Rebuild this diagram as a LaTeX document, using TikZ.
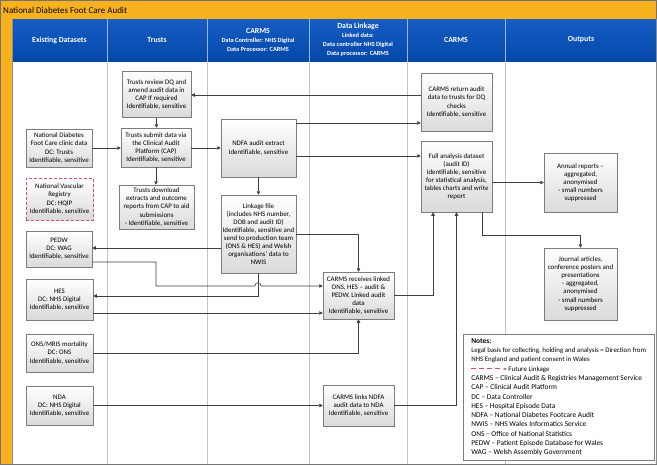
\documentclass[tikz,border=0pt]{standalone}
\usepackage{fontspec}
\setmainfont{Carlito}
\usetikzlibrary{arrows.meta,shadows}
\definecolor{orng}{RGB}{249,178,30}
\definecolor{hblue}{RGB}{22,92,196}
\definecolor{hblue2}{RGB}{4,72,168}
\definecolor{lnc}{RGB}{64,64,64}
\definecolor{bdr}{RGB}{125,125,125}
\definecolor{sepc}{RGB}{195,195,195}
\definecolor{fut}{RGB}{214,80,120}
\definecolor{boxbot}{RGB}{218,218,218}
\newcommand\hdsub{\fontsize{6.3}{7.7}\selectfont}
\newcommand\futdash{\textcolor{fut}{\rule[0.3em]{5pt}{1pt}}}
\begin{document}
\begin{tikzpicture}[x=1pt,y=-1pt,
  box/.style 2 args={draw=bdr, line width=0.5pt, top color=white, bottom color=boxbot,
    drop shadow={shadow xshift=0.8pt, shadow yshift=-0.8pt, opacity=0.25},
    align=center, inner sep=0.5pt, minimum width=#1pt, minimum height=#2pt,
    font=\fontsize{6.9}{8.1}\selectfont},
  arr/.style={draw=lnc, line width=0.6pt, -{Triangle[length=3.5pt,width=3.5pt]}},
  hdr/.style={text=white, align=center, font=\fontsize{7.8}{9}\bfseries\selectfont}
]
\useasboundingbox (0,0) rectangle (657,466);
% frame
\fill[orng] (0,0) rectangle (657,465);
\draw[black!55, line width=0.6pt] (0.3,0.3) rectangle (656.7,464.7);
\node[anchor=west, inner sep=0pt, font=\fontsize{9}{10}\selectfont] (title) at (3,10) {National Diabetes Foot Care Audit};
\fill[white] (12,19) rectangle (656.4,464.4);
\shade[top color=hblue, bottom color=hblue2] (12,19) rectangle (656.4,61);
\draw[black!45, line width=0.5pt] (12,19) -- (12,464.4);
\foreach \cx in {107,207,309,407,505} {
  \draw[sepc, line width=0.6pt] (\cx,61) -- (\cx,464.4);
  \draw[white!55!hblue, line width=0.6pt] (\cx,19) -- (\cx,61);
}
\draw[black!45, line width=0.5pt] (656.4,19) -- (656.4,464.4);
% headers
\node[hdr] (h1) at (59.5,40) {Existing Datasets};
\node[hdr] (h2) at (157,40) {Trusts};
\node[hdr] (h3) at (258,40) {CARMS\\\hdsub Data Controller: NHS Digital\\\hdsub Data Processor: CARMS};
\node[hdr] (h4) at (358,39.5) {Data Linkage\\\hdsub Linked data:\\\hdsub Data controller NHS Digital\\\hdsub Data processor: CARMS};
\node[hdr] (h5) at (456,40) {CARMS};
\node[hdr] (h6) at (581,40) {Outputs};
% helper levels
\foreach \yy in {95,123,148,156,234,235,248,262,286,296,313} {\coordinate (y\yy) at (0,\yy);}
\coordinate (x433) at (433,0);
\coordinate (x482) at (482,0);
% nodes
\node[box={69}{46}] (review) at (156.5,94.5) {Trusts review DQ and\\amend audit data in\\CAP If required\\Identifiable, sensitive};
\node[box={70}{39}] (submit) at (156,147.5) {Trusts submit data via\\the Clinical Audit\\Platform (CAP)\\Identifiable, sensitive};
\node[box={75}{44}] (download) at (156.5,207) {Trusts download\\extracts and outcome\\reports from CAP to aid\\submissions\\- Identifiable, sensitive};
\node[box={66}{38}] (clinic) at (59,148) {National Diabetes\\Foot Care clinic data\\DC: Trusts\\Identifiable, sensitive};
\node[box={67}{42}, draw=fut, line width=0.9pt, dash pattern=on 3pt off 2pt] (nvr) at (59.5,199) {National Vascular\\Registry\\DC: HQIP\\Identifiable, sensitive};
\node[box={66}{36}] (pedw) at (59,249) {PEDW\\DC: WAG\\Identifiable, sensitive};
\node[box={67}{41}] (hes) at (59.5,299.5) {HES\\DC: NHS Digital\\Identifiable, sensitive};
\node[box={67}{38}] (ons) at (59.5,353) {ONS/MRIS mortality\\DC: ONS\\Identifiable, sensitive};
\node[box={67}{39}] (nda) at (59.5,405.5) {NDA\\DC: NHS Digital\\Identifiable, sensitive};
\node[box={75}{58}] (ndfa) at (258.5,148) {NDFA audit extract\\Identifiable, sensitive};
\node[box={75}{78}] (linkage) at (258.5,234) {Linkage file\\(includes NHS number,\\DOB and audit ID)\\Identifiable, sensitive and\\send to production team\\(ONS \& HES) and Welsh\\organisations' data to\\NWIS};
\node[box={71}{47}] (recv) at (358.5,295.5) {CARMS receives linked\\ONS, HES – audit \&\\PEDW. Linked audit\\data\\Identifiable, sensitive};
\node[box={71}{41}] (links) at (358.5,405.5) {CARMS links NDFA\\audit data to NDA\\Identifiable, sensitive};
\node[box={71}{58}] (ret) at (456.5,102) {CARMS return audit\\data to trusts for DQ\\checks\\Identifiable, sensitive};
\node[box={71}{71}] (full) at (456.5,176.5) {Full analysis dataset\\(audit ID)\\Identifiable, sensitive\\for statistical analysis,\\tables charts and write\\report};
\node[box={73}{59}] (annual) at (580.5,182.5) {Annual reports –\\aggregated,\\anonymised\\- small numbers\\suppressed};
\node[box={73}{72}] (journal) at (580.5,284) {Journal articles,\\conference posters and\\presentations\\- aggregated,\\anonymised\\- small numbers\\suppressed};
\node[draw=bdr, fill=white, line width=0.5pt, anchor=north west, minimum width=191pt, minimum height=126pt,
      align=left, inner sep=2pt, font=\fontsize{7.4}{9.3}\selectfont] (notes) at (463,334)
  {\textbf{Notes:}\\
   {\fontsize{6.9}{9.3}\selectfont Legal basis for collecting, holding and analysis = Direction from}\\
   {\fontsize{6.9}{9.3}\selectfont NHS England and patient consent in Wales}\\
   {\fontsize{6.9}{9.3}\selectfont\futdash\hspace{3pt}\futdash\hspace{3pt}\futdash\hspace{3pt}\futdash\ \ = Future Linkage}\\
   CARMS – Clinical Audit \& Registries Management Service\\
   CAP – Clinical Audit Platform\\
   DC – Data Controller\\
   HES – Hospital Episode Data\\
   NDFA – National Diabetes Footcare Audit\\
   NWIS – NHS Wales Informatics Service\\
   ONS – Office of National Statistics\\
   PEDW – Patient Episode Database for Wales\\
   WAG – Welsh Assembly Government};
% connectors
\draw[arr] (ret.west |- y95) -- (review.east |- y95);
\draw[arr] (review.south) -- (review.south |- submit.north);
\draw[arr] (clinic.east |- y148) -- (submit.west |- y148);
\draw[arr] (submit.south) -- (submit.south |- download.north);
\draw[arr] (submit.east |- y148) -- (ndfa.west |- y148);
\draw[arr] (ndfa.east |- y123) -- (ret.west |- y123);
\draw[arr] (ndfa.east |- y156) -- (full.west |- y156);
\draw[arr] (ndfa.south) -- (linkage.north);
\draw[arr] (linkage.west |- y248) -- (pedw.east |- y248);
\draw[arr] (linkage.east |- y234) -| (recv.north);
\draw[arr] (linkage.south) -- (linkage.south |- y296) -- (hes.east |- y296);
\draw[arr] (pedw.east |- y262) -- (156,262) -- (156,286) -- (255,286)
   .. controls (255,281.5) and (261,281.5) .. (261,286) -- (recv.west |- y286);
\draw[arr] (hes.east |- y313) -- (recv.west |- y313);
\draw[arr] (ons.east) -| (recv.south);
\draw[arr] (nda.east) -- (links.west);
\draw[arr] (recv.east) -| (full.south -| x433);
\draw[arr] (links.east) -| (full.south);
\draw[arr] (full.east |- annual.west) -- (annual.west);
\draw[arr] (full.south -| x482) -- (x482 |- y235) -| (journal.north);
\end{tikzpicture}
\end{document}
